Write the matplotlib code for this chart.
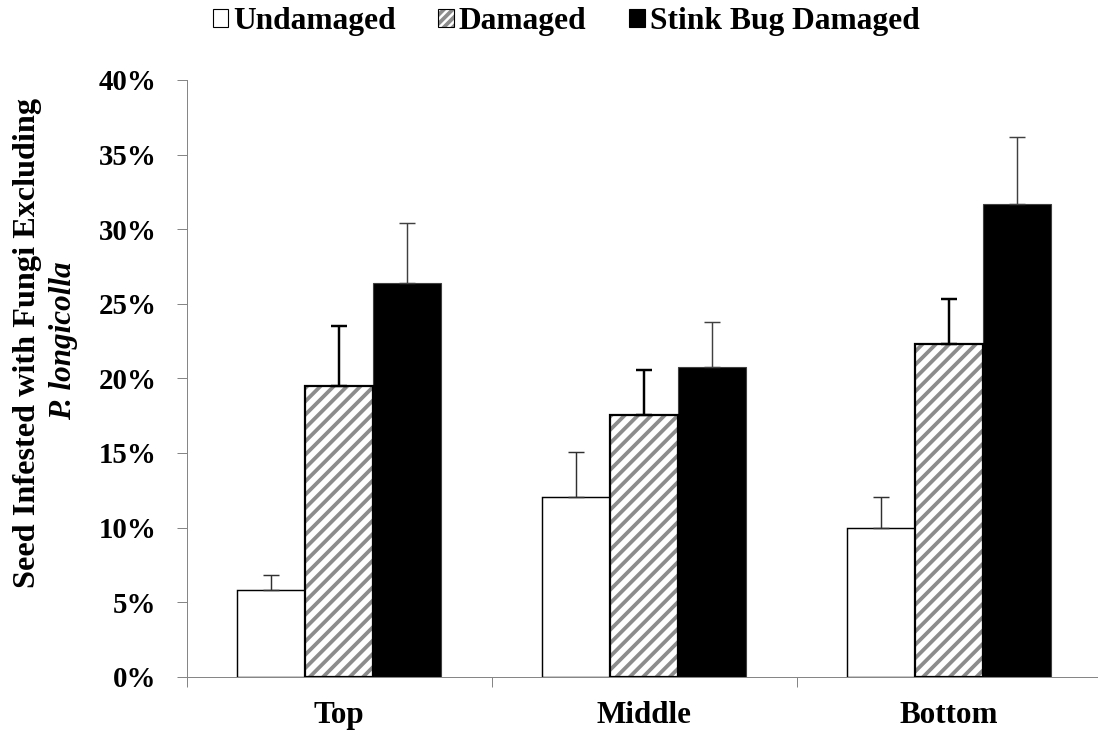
import matplotlib
matplotlib.use('Agg')
import matplotlib.pyplot as plt
import numpy as np
from matplotlib.patches import Patch
from matplotlib.legend_handler import HandlerTuple

# ---- data (percent) ----
categories = ['Top', 'Middle', 'Bottom']
series_names = ['Undamaged', 'Damaged', 'Stink Bug Damaged']
undamaged = [5.8, 12.05, 10.0]
damaged = [19.5, 17.55, 22.3]
stink = [26.4, 20.75, 31.7]
undamaged_err = [1.0, 3.0, 2.07]
damaged_err = [4.0, 3.0, 3.0]
stink_err = [4.0, 3.0, 4.45]
yticks = [0, 5, 10, 15, 20, 25, 30, 35, 40]
ytick_labels = ['0%', '5%', '10%', '15%', '20%', '25%', '30%', '35%', '40%']

DPI = 80
W, H = 1098, 734
plt.rcParams['font.family'] = ['Liberation Serif', 'DejaVu Serif']
plt.rcParams['hatch.linewidth'] = 3.4

fig = plt.figure(figsize=(W / DPI, H / DPI), dpi=DPI)
ax = fig.add_axes([186.7 / W, 57.3 / H, 915 / W, 596.7 / H])

x = np.arange(len(categories))
bw = 0.223
gray_hatch = '#8c8c8c'

# Undamaged
ax.bar(x - bw, undamaged, bw, color='white', edgecolor='black', linewidth=1.3, zorder=2)
ax.errorbar(x - bw, undamaged, yerr=[np.zeros(3), undamaged_err], fmt='none',
            ecolor='#303030', elinewidth=1.3, capsize=7, capthick=1.3, zorder=3)
# Damaged (hatched)
ax.bar(x, damaged, bw, color='white', edgecolor=gray_hatch, hatch='//', linewidth=0, zorder=2)
ax.bar(x, damaged, bw, fill=False, edgecolor='black', linewidth=2.0, zorder=2.5)
ax.errorbar(x, damaged, yerr=[np.zeros(3), damaged_err], fmt='none',
            ecolor='black', elinewidth=2.2, capsize=7, capthick=2.2, zorder=3)
# Stink bug damaged
ax.bar(x + bw, stink, bw, color='black', edgecolor='#404040', linewidth=1.0, zorder=2)
ax.errorbar(x + bw, stink, yerr=[np.zeros(3), stink_err], fmt='none',
            ecolor='#404040', elinewidth=1.3, capsize=7, capthick=1.3, zorder=3)

ax.set_xlim(-0.5, 2.5)
ax.set_ylim(0, 40)
ax.set_yticks(yticks)
ax.set_yticklabels(ytick_labels, fontsize=26, fontweight='bold')
ax.set_xticks([-0.5, 0.5, 1.5, 2.5])
ax.set_xticklabels([])
ax.set_xticks(x, minor=True)
ax.set_xticklabels(categories, minor=True, fontsize=28, fontweight='bold')
ax.tick_params(axis='x', which='minor', length=0, pad=22)
ax.tick_params(axis='x', which='major', length=9, width=0.9, color='#868686', direction='out')
ax.tick_params(axis='y', length=9, width=0.9, color='#868686', direction='out', pad=18)

for s in ['top', 'right']:
    ax.spines[s].set_visible(False)
for s in ['left', 'bottom']:
    ax.spines[s].set_color('#868686')
    ax.spines[s].set_linewidth(0.9)

# y label (two lines)
fig.text(27.5 / W, 1 - 343 / H, 'Seed Infested with Fungi Excluding', rotation=90,
         ha='center', va='center', fontsize=29, fontweight='bold')
fig.text(63.5 / W, 1 - 341 / H, 'P. longicolla', rotation=90,
         ha='center', va='center', fontsize=28, fontweight='bold', fontstyle='italic')

# legend
h_und = Patch(facecolor='white', edgecolor='black', linewidth=1.0)
h_dam = (Patch(facecolor='white', edgecolor=gray_hatch, hatch='///', linewidth=0),
         Patch(fill=False, edgecolor='black', linewidth=1.0))
h_stk = Patch(facecolor='black', edgecolor='black', linewidth=1.0)
leg = fig.legend([h_und, h_dam, h_stk], series_names, loc='center',
                 bbox_to_anchor=(566 / W, 1 - 22 / H), ncol=3, frameon=False,
                 prop={'size': 28.4, 'weight': 'bold'},
                 handlelength=0.5, handleheight=0.5, handletextpad=0.15,
                 columnspacing=1.35, borderpad=0, borderaxespad=0,
                 handler_map={tuple: HandlerTuple(ndivide=1, pad=0)})

fig.savefig('out.png', dpi=DPI)
